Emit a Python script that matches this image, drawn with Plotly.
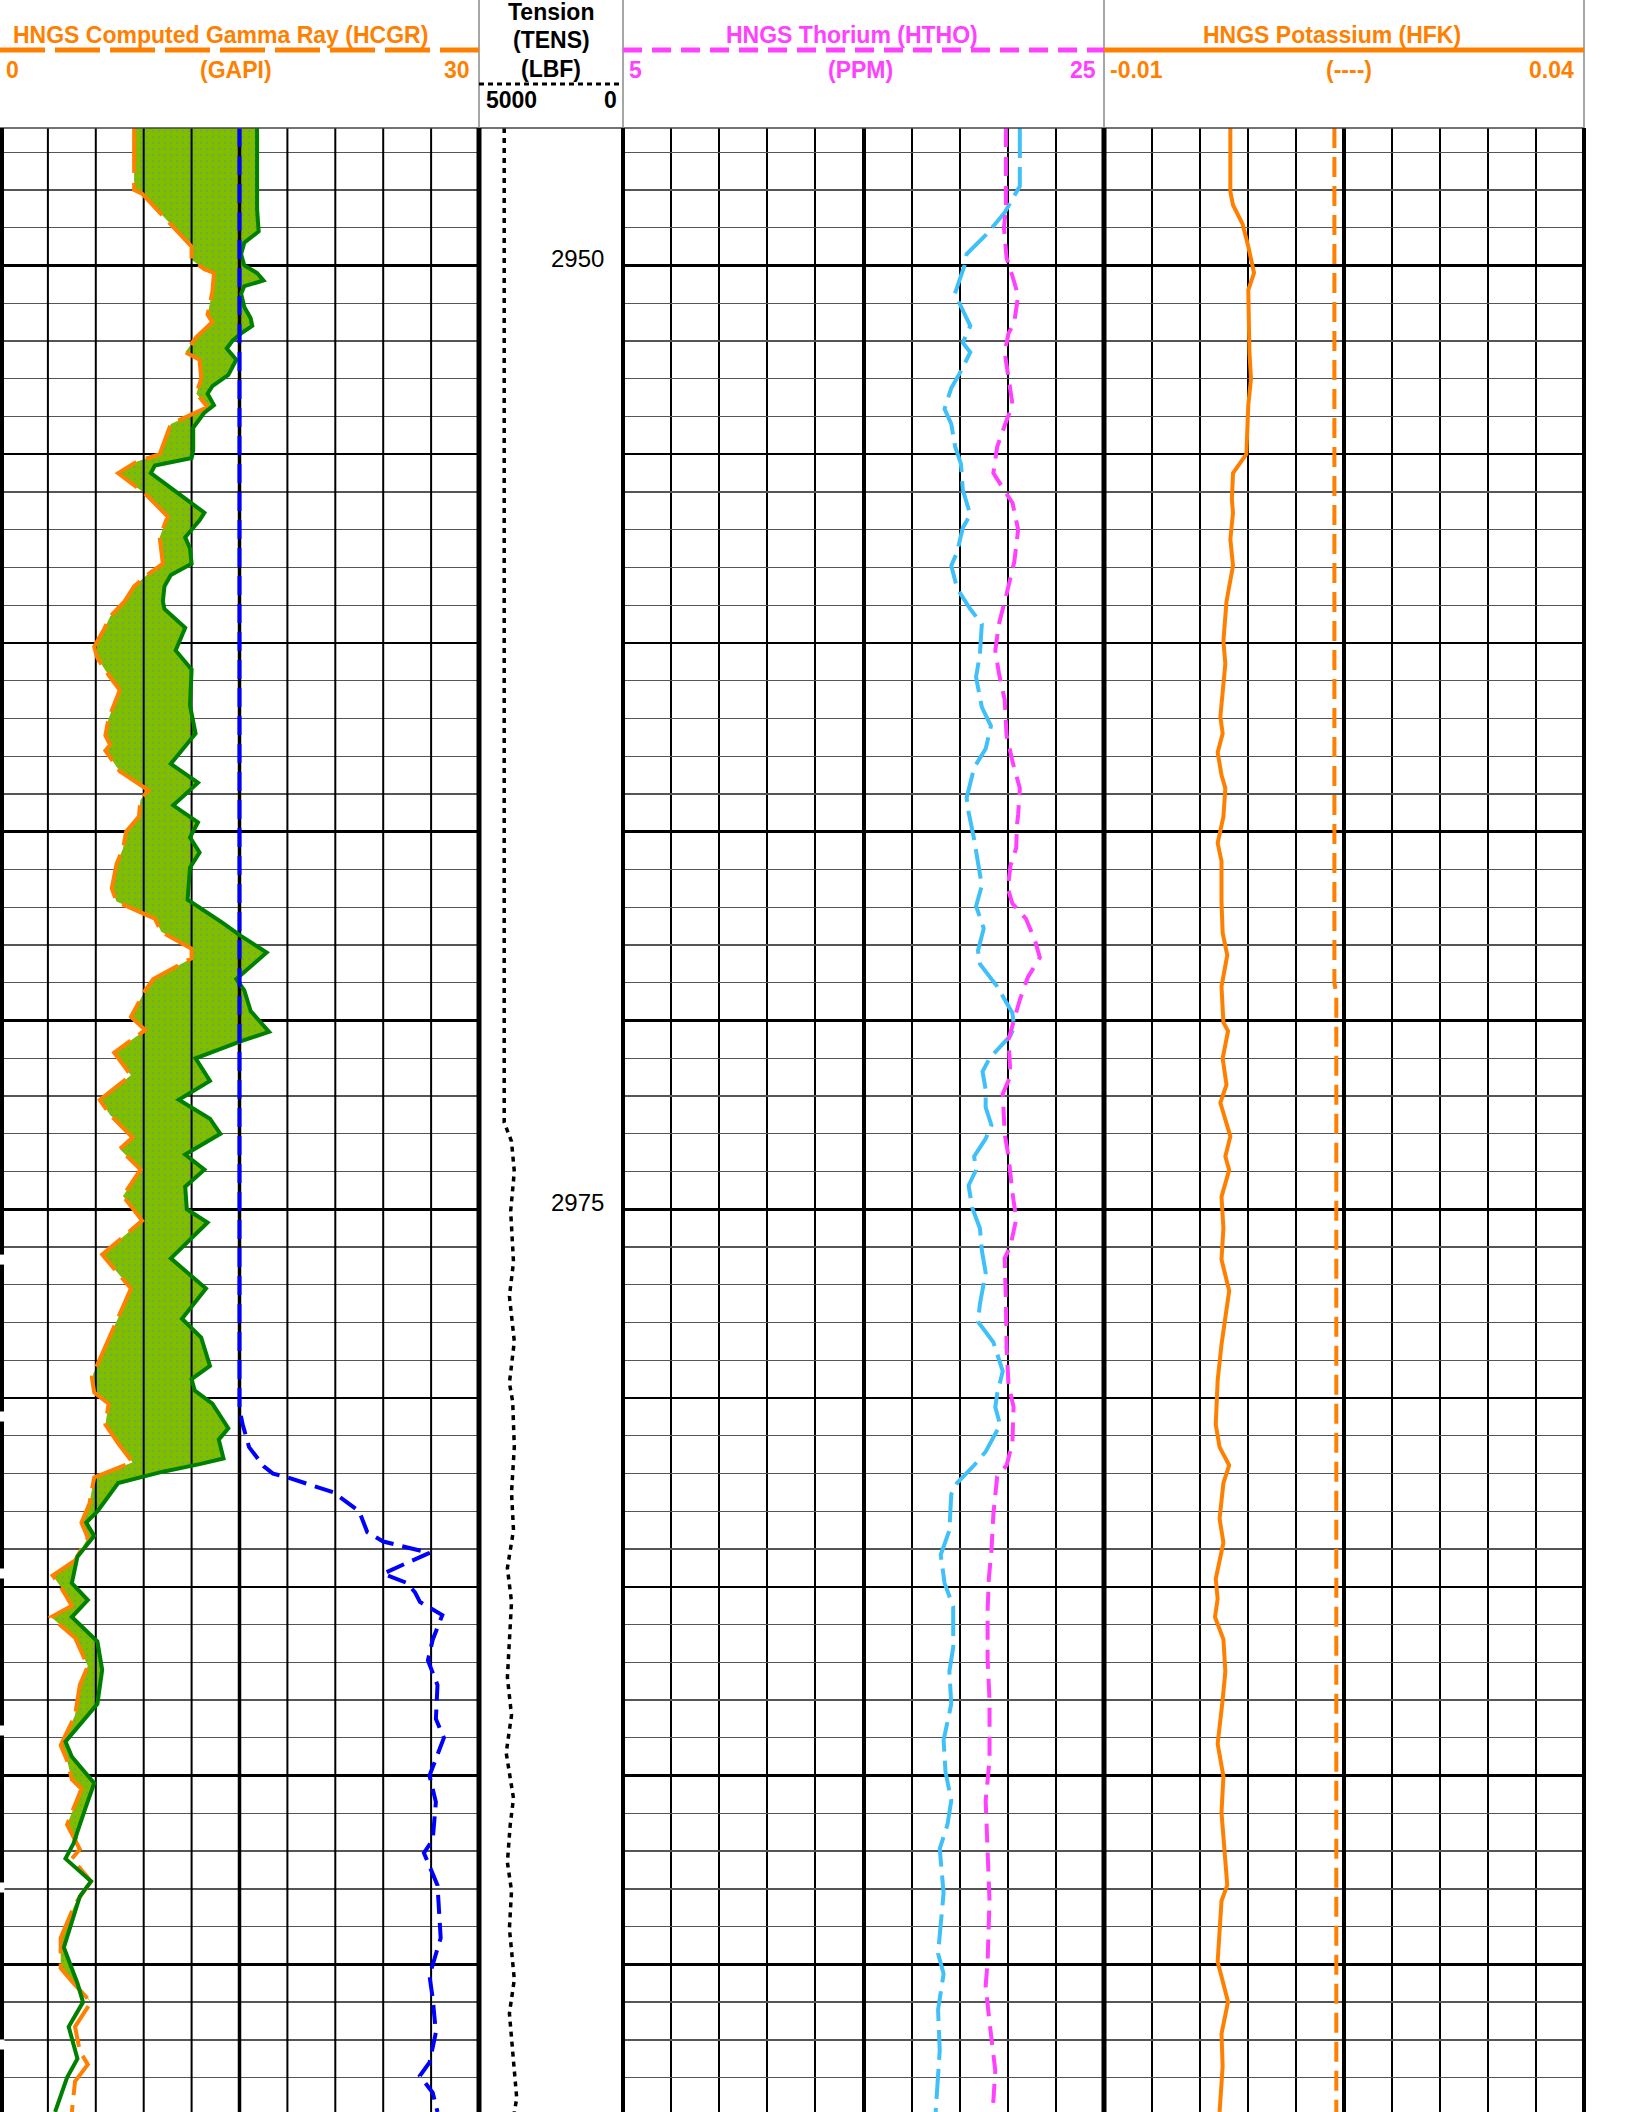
import numpy as np
import plotly.graph_objects as go

W, H = 1628, 2112
HEADER_PX = 128
DEPTH_TOP, DEPTH_BOTTOM = 2946.36, 2998.91

# ---------------- data ----------------
hcgr_depth = [2946.36, 2948.0, 2948.1, 2949.5, 2949.85, 2950.1, 2950.2, 2950.7, 2951.3, 2951.5, 2951.9,
              2952.3, 2952.5, 2953.0, 2953.4, 2953.75, 2954.2, 2954.8, 2955.0, 2955.2, 2955.5, 2956.05,
              2956.3, 2956.65, 2957.2, 2957.9, 2958.2, 2958.5, 2958.9, 2959.3, 2959.65, 2960.1, 2960.4,
              2960.85, 2961.25, 2962.0, 2962.45, 2962.7, 2962.85, 2963.4, 2963.9, 2964.15, 2964.6, 2965.0,
              2965.45, 2965.85, 2966.5, 2966.85, 2967.3, 2967.65, 2968.1, 2968.35, 2968.9, 2969.2, 2969.9,
              2970.25, 2970.85, 2971.45, 2972.1, 2972.5, 2973.1, 2973.4, 2973.95, 2974.65, 2975.3, 2976.2,
              2977.1, 2978.65, 2979.45, 2979.85, 2980.15, 2980.7, 2981.2, 2981.7, 2982.1, 2982.8, 2983.3,
              2983.7, 2984.3, 2984.7, 2985.0, 2985.5, 2985.8, 2986.35, 2987.1, 2987.6, 2988.4, 2989.2,
              2989.6, 2990.1, 2990.35, 2991.3, 2991.95, 2992.2, 2992.8, 2993.4, 2994.3, 2995.1, 2995.5,
              2996.0, 2996.65, 2997.3, 2997.65, 2998.1, 2998.91]
hcgr_value = [8.4, 8.4, 8.9, 12.0, 12.0, 12.8, 13.4, 13.3, 13.0, 13.3, 12.3,
              11.6, 12.5, 12.6, 12.3, 13.0, 10.7, 10.2, 10.0, 8.55, 7.4, 9.1,
              9.7, 10.5, 10.0, 10.2, 9.2, 8.4, 7.8, 6.9, 6.5, 5.9, 6.1,
              6.8, 7.5, 6.8, 6.6, 6.9, 6.6, 7.5, 9.3, 8.8, 8.7, 7.9,
              7.7, 7.3, 7.0, 7.3, 9.7, 10.1, 12.0, 12.0, 9.6, 9.1, 8.2,
              9.1, 7.15, 8.2, 6.25, 6.9, 8.3, 7.5, 8.8, 7.7, 8.9, 6.4,
              8.2, 6.6, 5.75, 5.9, 6.8, 6.6, 7.4, 8.3, 5.9, 5.6, 5.1,
              5.5, 4.7, 3.3, 3.8, 4.5, 3.2, 4.7, 5.5, 5.0, 4.7, 3.8,
              4.2, 4.5, 5.1, 4.2, 5.0, 4.5, 5.7, 4.7, 3.8, 3.8, 4.6,
              5.7, 4.7, 5.0, 5.5, 4.7, 4.5]

green_depth = [2946.36, 2948.3, 2948.5, 2949.1, 2949.4, 2949.7, 2950.0, 2950.2, 2950.4, 2950.55, 2950.75,
               2951.1, 2951.4, 2951.6, 2951.8, 2952.0, 2952.2, 2952.5, 2952.9, 2953.2, 2953.4, 2953.7,
               2953.9, 2954.3, 2954.9, 2955.1, 2955.3, 2955.5, 2955.9, 2956.3, 2956.55, 2956.75, 2957.2,
               2957.5, 2957.9, 2958.2, 2958.5, 2958.9, 2959.1, 2959.6, 2960.2, 2960.7, 2961.65, 2962.4,
               2963.2, 2963.7, 2964.3, 2964.75, 2965.15, 2965.55, 2965.95, 2966.8, 2967.0, 2967.4, 2967.75,
               2968.2, 2968.9, 2969.2, 2969.75, 2970.3, 2970.55, 2971.0, 2971.6, 2972.1, 2972.6, 2973.0,
               2973.55, 2973.95, 2974.4, 2975.0, 2975.35, 2976.3, 2977.1, 2977.9, 2978.4, 2979.15, 2979.5,
               2979.8, 2980.15, 2980.8, 2981.1, 2981.6, 2981.75, 2981.95, 2982.25, 2983.0, 2983.3, 2983.65,
               2984.2, 2984.9, 2985.35, 2985.8, 2986.45, 2987.2, 2988.1, 2989.1, 2989.5, 2990.2, 2990.8,
               2991.8, 2992.2, 2992.8, 2993.2, 2994.55, 2995.5, 2996.0, 2996.65, 2997.5, 2998.0, 2998.91]
green_value = [16.1, 16.1, 16.1, 16.2, 15.3, 15.1, 15.3, 16.1, 16.5, 15.3, 15.1,
               15.3, 15.7, 15.8, 15.1, 14.55, 14.2, 14.8, 14.3, 13.3, 13.0, 13.4,
               12.8, 12.1, 12.1, 12.0, 9.7, 9.45, 10.7, 12.0, 12.8, 12.5, 11.6,
               11.9, 12.0, 10.7, 10.3, 10.2, 10.3, 11.6, 11.0, 12.0, 11.9, 12.25,
               10.7, 12.4, 10.85, 12.4, 11.9, 12.5, 11.9, 11.75, 12.5, 13.9, 15.06,
               16.7, 14.8, 15.3, 15.7, 16.85, 15.06, 12.25, 13.15, 11.2, 13.15, 13.8,
               11.6, 12.8, 11.6, 11.7, 13.0, 10.7, 12.9, 11.4, 12.6, 13.15, 12.0,
               12.2, 13.3, 14.3, 13.7, 14.0, 12.5, 10.2, 7.4, 6.1, 5.4, 5.9,
               4.85, 4.5, 5.5, 4.5, 6.1, 6.4, 6.1, 4.1, 4.5, 5.9, 5.4,
               4.6, 4.1, 5.7, 5.0, 4.0, 4.85, 5.2, 4.3, 4.85, 4.2, 3.45]

blue_depth = [2946.36, 2980.3, 2980.7, 2981.3, 2981.8, 2982.0, 2982.1, 2982.5, 2983.0, 2983.55, 2983.8,
              2984.1, 2984.65, 2984.9, 2985.15, 2985.4, 2985.75, 2986.4, 2986.95, 2987.6, 2988.5, 2989.0,
              2990.0, 2990.7, 2991.7, 2992.05, 2992.9, 2994.3, 2995.3, 2995.9, 2996.8, 2997.6, 2997.95,
              2998.4, 2998.91]
blue_value = [15.0, 15.0, 15.2, 15.6, 16.5, 17.1, 18.0, 20.9, 22.5, 23.0, 24.0,
              26.9, 24.0, 25.5, 26.0, 26.3, 27.7, 27.1, 26.8, 27.4, 27.3, 27.8,
              26.9, 27.3, 27.1, 26.55, 27.4, 27.6, 26.9, 27.1, 27.3, 26.9, 26.3,
              27.1, 27.4]

tens_depth = [2946.36, 2972.7, 2973.2, 2974.0, 2975.05, 2976.4, 2977.3, 2978.5, 2979.6, 2980.1, 2981.3,
              2982.5, 2983.5, 2984.5, 2985.4, 2986.4, 2987.4, 2988.4, 2989.4, 2990.6, 2991.3, 2992.3,
              2993.05, 2994.05, 2995.4, 2996.3, 2997.3, 2998.55, 2998.91]
tens_value = [4125, 4125, 3872, 3774, 3900, 3802, 3944, 3774, 3944, 3830, 3774,
              3871, 3802, 4014, 3871, 3944, 4014, 3871, 4056, 3802, 3916, 4014,
              3871, 3944, 3774, 3944, 3830, 3690, 3774]

htho_depth = [2946.36, 2948.5, 2949.0, 2949.8, 2950.3, 2950.8, 2951.5, 2951.8, 2952.3, 2953.0, 2953.7,
              2954.1, 2954.8, 2955.5, 2955.95, 2956.3, 2957.0, 2957.85, 2958.7, 2959.5, 2960.2, 2960.8,
              2961.5, 2962.45, 2963.15, 2963.85, 2964.55, 2964.83, 2965.43, 2965.9, 2966.5, 2966.9, 2967.3,
              2967.9, 2968.33, 2968.86, 2969.45, 2969.93, 2970.5, 2971.47, 2971.94, 2973.0, 2973.6, 2974.55,
              2975.26, 2975.97, 2976.3, 2977.4, 2978.7, 2979.64, 2980.24, 2981.19, 2981.78, 2982.07,
              2983.08, 2984.04, 2984.79, 2985.64, 2986.92, 2987.99, 2989.59, 2990.66, 2991.73, 2993.32,
              2994.93, 2995.57, 2996.53, 2997.81, 2998.91]
htho_value = [20.92, 20.92, 20.84, 20.95, 21.2, 21.43, 21.27, 21.03, 20.87, 21.03, 21.2,
              20.95, 20.56, 20.4, 20.84, 21.2, 21.43, 21.27, 20.95, 20.63, 20.48, 20.63,
              20.87, 20.95, 21.2, 21.5, 21.43, 21.38, 21.35, 21.11, 21.0, 21.19, 21.75,
              22.14, 22.33, 21.83, 21.5, 21.27, 21.03, 21.11, 20.79, 20.87, 21.03, 21.19,
              21.35, 21.11, 20.87, 20.92, 20.95, 21.03, 21.24, 21.19, 20.95, 20.56,
              20.4, 20.32, 20.21, 20.16, 20.16, 20.24, 20.24, 20.08, 20.16, 20.24,
              20.16, 20.08, 20.24, 20.48, 20.37]

cyan_depth = [2946.36, 2947.9, 2948.6, 2949.2, 2949.7, 2950.0, 2950.75, 2951.25, 2951.6, 2952.05, 2952.3,
              2952.8, 2953.25, 2953.8, 2954.2, 2954.8, 2955.25, 2955.95, 2956.6, 2956.95, 2957.6, 2957.95,
              2958.55, 2959.1, 2959.5, 2960.3, 2960.9, 2961.7, 2962.2, 2962.8, 2963.3, 2964.1, 2964.48,
              2965.2, 2965.9, 2966.43, 2966.97, 2967.56, 2968.15, 2968.5, 2969.1, 2969.8, 2970.17, 2970.4,
              2971.0, 2971.35, 2971.83, 2972.3, 2972.77, 2973.13, 2973.6, 2973.96, 2974.37, 2974.96, 2975.5,
              2976.09, 2976.68, 2977.51, 2977.98, 2978.52, 2979.29, 2979.88, 2980.24, 2980.71, 2981.42,
              2981.78, 2982.25, 2982.55, 2983.51, 2984.15, 2984.9, 2985.53, 2986.6, 2987.24, 2988.1,
              2989.06, 2989.9, 2990.66, 2991.3, 2991.94, 2993.11, 2994.71, 2995.25, 2996.2, 2997.28,
              2997.92, 2998.91]
cyan_value = [21.5, 21.5, 20.87, 20.08, 19.29, 19.2, 18.8, 19.2, 19.44, 19.13, 19.44,
              19.05, 18.65, 18.37, 18.65, 18.81, 19.05, 19.13, 19.44, 19.13, 18.89, 18.65,
              18.89, 19.44, 19.92, 19.84, 19.68, 19.92, 20.3, 20.08, 19.6, 19.29, 19.37,
              19.6, 19.76, 19.92, 19.68, 20.0, 19.76, 19.84, 20.56, 21.19, 21.27, 21.11,
              20.24, 19.95, 20.08, 20.08, 20.32, 20.08, 19.6, 19.68, 19.37, 19.52, 19.84,
              19.92, 20.08, 19.84, 19.76, 20.4, 20.79, 20.56, 20.48, 20.68, 20.08,
              19.6, 18.89, 18.65, 18.57, 18.21, 18.37, 18.73, 18.73, 18.57, 18.65,
              18.33, 18.41, 18.65, 18.49, 18.17, 18.33, 18.1, 18.33, 18.1, 18.17,
              18.1, 18.0]

hfk_depth = [2946.36, 2948.05, 2948.4, 2948.9, 2949.5, 2950.2, 2950.65, 2952.3, 2953.0, 2953.7, 2955.0,
             2955.5, 2956.2, 2956.55, 2957.25, 2957.95, 2958.9, 2959.95, 2960.55, 2961.95, 2962.4, 2962.9,
             2963.5, 2963.85, 2964.6, 2965.3, 2965.78, 2966.85, 2967.68, 2968.27, 2969.1, 2970.05, 2970.28,
             2971.0, 2971.7, 2972.18, 2973.07, 2973.6, 2973.96, 2974.67, 2975.5, 2976.33, 2977.16, 2978.58,
             2979.53, 2980.7, 2981.3, 2981.78, 2982.25, 2983.19, 2983.83, 2984.79, 2985.32, 2985.8, 2986.39,
             2987.24, 2987.99, 2989.16, 2990.02, 2990.98, 2992.9, 2993.32, 2994.93, 2995.99, 2996.84,
             2997.7, 2998.91]
hfk_value = [0.00316, 0.00316, 0.00344, 0.00443, 0.00503, 0.00563, 0.00503, 0.00515, 0.00531, 0.00503, 0.00483,
             0.00344, 0.00332, 0.00344, 0.00316, 0.00344, 0.00276, 0.00244, 0.00264, 0.00212, 0.00236, 0.00184,
             0.00224, 0.00264, 0.00244, 0.00184, 0.00224, 0.00224, 0.00236, 0.00284, 0.00224, 0.00244, 0.00292,
             0.00236, 0.00276, 0.00212, 0.00316, 0.00264, 0.00304, 0.00224, 0.00244, 0.00224, 0.00304, 0.00224,
             0.00184, 0.00164, 0.00204, 0.00304, 0.00244, 0.00204, 0.00244, 0.00164, 0.00184, 0.00156, 0.00244,
             0.00264, 0.00236, 0.00184, 0.00244, 0.00224, 0.00284, 0.00224, 0.00184, 0.00292, 0.00224,
             0.00236, 0.00204]

kref_depth = [2946.36, 2969.0, 2969.3, 2998.91]
kref_value = [0.0140, 0.0140, 0.0142, 0.0142]

depth_labels = [2950, 2975]

gr_range = [0, 30]
tens_range = [5000, 0]
th_range = [5, 25]
k_range = [-0.01, 0.04]

# ---------------- colours / geometry ----------------
ORANGE = "#FF8000"
GREEN = "#008000"
BLUE = "#0000FF"
PINK = "#FF40FF"
CYAN = "#40C0F8"
FILL = "#80BC00"
FONT = "Liberation Sans, Arial, sans-serif"

T_EDGES = [0, 479, 623, 1104, 1584]


def px(x):
    return x / W


def py(y):
    return 1 - y / H


data_top = py(HEADER_PX)

fig = go.Figure()

# ---- track 1: fill between HCGR (left) and green curve where green is to the right
u = np.array(sorted(set(hcgr_depth) | set(green_depth)))
o_i = np.interp(u, hcgr_depth, hcgr_value)
g_i = np.interp(u, green_depth, green_value)
right = np.maximum(o_i, g_i)
fig.add_trace(go.Scatter(
    x=np.concatenate([o_i, right[::-1]]), y=np.concatenate([u, u[::-1]]),
    mode="lines", line=dict(width=0), fill="toself", fillcolor=FILL,
    fillpattern=dict(shape=".", bgcolor=FILL, fgcolor="#3A92C8", size=6, solidity=0.07),
    xaxis="x", yaxis="y", hoverinfo="skip"))

# vertical grid of track 1 (drawn above the fill)
minor_x, minor_y = [], []
for v in np.arange(gr_range[0] + 3, gr_range[1], 3):
    if abs(v - 15) < 1e-9:
        continue
    minor_x += [v, v, None]
    minor_y += [DEPTH_TOP, DEPTH_BOTTOM, None]
fig.add_trace(go.Scatter(x=minor_x, y=minor_y, mode="lines", line=dict(color="black", width=2),
                         xaxis="x", yaxis="y", hoverinfo="skip"))
fig.add_trace(go.Scatter(x=[15, 15], y=[DEPTH_TOP, DEPTH_BOTTOM], mode="lines",
                         line=dict(color="black", width=3.5), xaxis="x", yaxis="y", hoverinfo="skip"))

fig.add_trace(go.Scatter(x=hcgr_value, y=hcgr_depth, mode="lines",
                         line=dict(color=ORANGE, width=4, dash="45px,10px"), xaxis="x", yaxis="y"))
fig.add_trace(go.Scatter(x=green_value, y=green_depth, mode="lines",
                         line=dict(color=GREEN, width=4), xaxis="x", yaxis="y"))
fig.add_trace(go.Scatter(x=blue_value, y=blue_depth, mode="lines",
                         line=dict(color=BLUE, width=4, dash="19px,9px"), xaxis="x", yaxis="y"))

# ---- track 2: tension
fig.add_trace(go.Scatter(x=tens_value, y=tens_depth, mode="lines",
                         line=dict(color="black", width=3.5, dash="5px,5px"), xaxis="x2", yaxis="y2"))

# ---- track 3: thorium + second curve
fig.add_trace(go.Scatter(x=cyan_value, y=cyan_depth, mode="lines",
                         line=dict(color=CYAN, width=4, dash="30px,9px"), xaxis="x3", yaxis="y3"))
fig.add_trace(go.Scatter(x=htho_value, y=htho_depth, mode="lines",
                         line=dict(color=PINK, width=4, dash="19px,10px"), xaxis="x3", yaxis="y3"))

# ---- track 4: potassium
fig.add_trace(go.Scatter(x=kref_value, y=kref_depth, mode="lines",
                         line=dict(color=ORANGE, width=4, dash="20px,9px"), xaxis="x4", yaxis="y4"))
fig.add_trace(go.Scatter(x=hfk_value, y=hfk_depth, mode="lines",
                         line=dict(color=ORANGE, width=4), xaxis="x4", yaxis="y4"))

# ---------------- axes ----------------
ygrid = dict(showgrid=True, gridcolor="black", gridwidth=2.5, tick0=2950, dtick=5,
             minor=dict(showgrid=True, gridcolor="#555555", gridwidth=1.3, tick0=2950, dtick=1),
             zeroline=False, showticklabels=False, ticks="", domain=[0, data_top])
noax = dict(zeroline=False, showticklabels=False, ticks="")

fig.update_layout(
    width=W, height=H, margin=dict(l=0, r=0, t=0, b=0),
    paper_bgcolor="white", plot_bgcolor="white", showlegend=False, hovermode=False,
    xaxis=dict(domain=[px(T_EDGES[0]), px(T_EDGES[1])], range=gr_range, showgrid=False, anchor="y", **noax),
    yaxis=dict(range=[DEPTH_BOTTOM, DEPTH_TOP], autorange=False, anchor="x", **ygrid),
    xaxis2=dict(domain=[px(T_EDGES[1]), px(T_EDGES[2])], range=tens_range, showgrid=False, anchor="y2", **noax),
    yaxis2=dict(matches="y", showgrid=False, anchor="x2", domain=[0, data_top], **noax),
    xaxis3=dict(domain=[px(T_EDGES[2]), px(T_EDGES[3])], range=th_range, anchor="y3",
                showgrid=True, gridcolor="black", gridwidth=4, tick0=5, dtick=10,
                minor=dict(showgrid=True, gridcolor="black", gridwidth=2, tick0=5, dtick=2), **noax),
    yaxis3=dict(matches="y", anchor="x3", **ygrid),
    xaxis4=dict(domain=[px(T_EDGES[3]), px(T_EDGES[4])], range=k_range, anchor="y4",
                showgrid=True, gridcolor="black", gridwidth=4, tick0=-0.01, dtick=0.025,
                minor=dict(showgrid=True, gridcolor="black", gridwidth=2, tick0=-0.01, dtick=0.005), **noax),
    yaxis4=dict(matches="y", anchor="x4", **ygrid),
)

# ---------------- shapes: borders & header ----------------
shapes = []
shapes.append(dict(type="line", xref="paper", yref="paper", x0=0, x1=px(1584), y0=data_top, y1=data_top,
                   line=dict(color="#444444", width=1.5)))
for xe in [479, 623, 1104, 1584]:
    shapes.append(dict(type="line", xref="paper", yref="paper", x0=px(xe), x1=px(xe), y0=data_top, y1=1,
                       line=dict(color="#888888", width=1.5)))
for xe, wdt in [(1.5, 5), (479, 5), (623, 4), (1104, 5), (1584, 4)]:
    shapes.append(dict(type="line", xref="paper", yref="paper", x0=px(xe), x1=px(xe), y0=0, y1=data_top,
                       line=dict(color="black", width=wdt)))
shapes.append(dict(type="line", xref="paper", yref="y", x0=px(1.5), x1=px(1.5), y0=2976.2, y1=DEPTH_BOTTOM,
                   line=dict(color="white", width=6, dash="10px,147px")))
shapes.append(dict(type="line", xref="paper", yref="paper", x0=0, x1=px(479), y0=py(50), y1=py(50),
                   line=dict(color=ORANGE, width=5, dash="45px,10px")))
shapes.append(dict(type="line", xref="paper", yref="paper", x0=px(623), x1=px(1104), y0=py(50), y1=py(50),
                   line=dict(color=PINK, width=5, dash="19px,10px")))
shapes.append(dict(type="line", xref="paper", yref="paper", x0=px(1104), x1=px(1584), y0=py(50), y1=py(50),
                   line=dict(color=ORANGE, width=5)))
shapes.append(dict(type="line", xref="paper", yref="paper", x0=px(479), x1=px(623), y0=py(84), y1=py(84),
                   line=dict(color="black", width=3, dash="5px,4px")))
fig.update_layout(shapes=shapes)

# ---------------- annotations ----------------
ann = []


def hdr(text, x, y, color, anchor="center", size=23, bold=True):
    ann.append(dict(text=text, xref="paper", yref="paper", x=px(x), y=py(y), xanchor=anchor, yanchor="middle",
                    showarrow=False, font=dict(family=FONT, size=size, color=color,
                                               weight="bold" if bold else "normal")))


hdr("HNGS Computed Gamma Ray (HCGR)", 220, 35, ORANGE)
hdr("0", 4, 70, ORANGE, "left")
hdr("(GAPI)", 236, 70, ORANGE)
hdr("30", 472, 70, ORANGE, "right")

hdr("Tension", 551, 12, "black")
hdr("(TENS)", 551, 40, "black")
hdr("(LBF)", 551, 69, "black")
hdr("5000", 484, 100, "black", "left")
hdr("0", 619, 100, "black", "right")

hdr("HNGS Thorium (HTHO)", 852, 35, PINK)
hdr("5", 627, 70, PINK, "left")
hdr("(PPM)", 861, 70, PINK)
hdr("25", 1098, 70, PINK, "right")

hdr("HNGS Potassium (HFK)", 1332, 35, ORANGE)
hdr("-0.01", 1108, 70, ORANGE, "left")
hdr("(----)", 1349, 70, ORANGE)
hdr("0.04", 1576, 70, ORANGE, "right")

for d in depth_labels:
    ann.append(dict(text=str(d), xref="paper", yref="y2", x=px(577), y=d, xanchor="center", yanchor="middle",
                    yshift=7, showarrow=False, font=dict(family=FONT, size=24, color="black")))

fig.update_layout(annotations=ann)

fig.write_html("out.html", config={"displayModeBar": False, "staticPlot": True},
               post_script="document.body.style.margin='0px';document.body.style.padding='0px';")
